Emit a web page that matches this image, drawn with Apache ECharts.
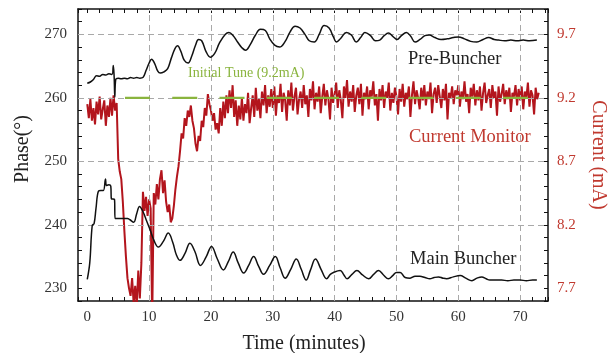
<!DOCTYPE html>
<html>
<head>
<meta charset="utf-8">
<script src="https://cdn.jsdelivr.net/npm/echarts@6/dist/echarts.min.js"></script>
<style>html,body{margin:0;padding:0;background:#fff}#c{width:608px;height:353px}</style>
</head>
<body>
<div id="c"></div>
<script>
// ---- data ----
const xTickLabels = [0, 10, 20, 30, 40, 50, 60, 70];
const phaseTickLabels = [230, 240, 250, 260, 270];
const currentTickLabels = [7.7, 8.2, 8.7, 9.2, 9.7];
const gridTimes = [10, 20, 30, 40, 50, 60, 70];
const gridPhases = [240, 250, 260, 270];

// Pre-Buncher phase [time (min), phase (deg)]
const preBuncher = [[0,262.3],[0.5,262.5],[1,262.9],[1.5,263.5],[2,263.4],[2.5,263.7],[3,263.6],[3.5,263.8],[4,263.7],[4.2,265.1],[4.35,263.2],[4.45,260.1],[4.6,262.9],[5,263.1],[5.5,263.0],[6,263.1],[6.5,263.0],[7,263.2],[7.5,263.1],[8,263.2],[8.5,263.1],[9,263.2],[9.5,264.3],[10,265.5],[10.4,266.1],[10.9,265.4],[11.4,264.2],[11.8,263.9],[12.4,264.1],[13,264.6],[13.6,266.3],[14.2,267.8],[14.6,268.2],[15.1,267.4],[15.7,265.9],[16.3,265.5],[16.9,266.6],[17.5,268.3],[18,269.2],[18.5,269.0],[19.2,267.3],[19.9,266.4],[20.6,267.0],[21.4,268.7],[22.3,270.0],[22.9,270.3],[23.6,269.8],[24.3,268.8],[25,267.9],[25.6,267.5],[26.3,268.3],[27.2,269.9],[28,270.8],[28.8,270.6],[29.5,269.3],[30.3,268.3],[31.1,268.0],[32,268.9],[32.8,270.4],[33.6,271.3],[34.4,271.0],[35.2,270.0],[35.9,269.0],[36.7,268.8],[37.5,270.0],[38.3,271.4],[39.1,271.0],[39.8,269.6],[40.3,268.8],[41,269.4],[41.9,270.3],[42.7,269.9],[43.5,268.8],[44.2,269.5],[44.9,270.3],[45.8,269.8],[46.6,269.0],[47.3,269.1],[48,269.8],[48.7,270.2],[49.4,269.7],[50.1,269.2],[50.8,269.8],[51.6,270.3],[52.3,269.7],[53,268.8],[53.8,269.2],[54.6,269.8],[55.3,269.9],[56.2,269.5],[57.2,269.2],[58.2,269.3],[59.2,269.5],[60,269.6],[61,269.3],[62,268.9],[63,268.8],[64,269.2],[64.9,269.5],[65.8,269.2],[66.5,269.1],[67.5,269.0],[68.5,269.1],[69.5,269.0],[70.5,269.1],[71.5,269.0],[72.7,269.1]];

// Main Buncher phase [time (min), phase (deg)]
const mainBuncher = [[0,231.4],[0.4,234],[0.8,239.9],[1.1,240.2],[1.4,242.5],[1.8,245.3],[2.2,245.4],[2.6,245.4],[2.95,247.2],[3.1,246.2],[3.5,246.3],[3.8,246.1],[3.9,244.1],[4.4,244],[4.5,241],[5.5,241],[6.5,241],[6.9,240.8],[7.5,240.4],[8,241.8],[8.45,242.9],[9,242.1],[9.6,240.6],[10.2,239.1],[10.8,237.5],[11.5,236.5],[12.3,237.4],[13.1,238.7],[13.8,237.3],[14.4,235.3],[15,234.4],[15.8,235.5],[16.6,237.1],[17.4,235.8],[18.3,233.6],[19.2,234.9],[20.1,236.6],[21,234.7],[22,232.9],[22.8,234.2],[23.6,235.7],[24.4,234.0],[25.3,232.4],[26.1,233.6],[26.9,235.0],[27.7,233.5],[28.5,232.2],[29.5,233.6],[30.4,235.0],[31.2,233.2],[32,231.6],[32.9,233.0],[33.8,234.6],[34.6,233.0],[35.4,231.3],[36.1,232.9],[36.9,234.6],[37.8,233.0],[38.7,231.5],[39.3,232.2],[39.8,232.5],[40.9,232.8],[41.5,232.1],[42,231.5],[42.8,232.2],[43.6,232.8],[44.5,232.1],[45.5,231.5],[46.3,232.2],[47.1,232.8],[47.9,232.1],[48.7,231.5],[49.4,232.0],[50,232.5],[50.6,232.5],[51.4,231.7],[52.2,231.6],[53,231.9],[53.8,231.9],[54.6,231.7],[55.4,231.5],[56.1,231.7],[56.8,231.8],[57.5,231.6],[58.1,231.5],[59.2,231.8],[60.3,232.0],[61.2,231.6],[62.2,231.2],[63,231.6],[63.8,231.8],[64.5,231.5],[65.1,231.3],[66,231.3],[67,231.3],[68,231.2],[69,231.3],[70,231.3],[71,231.2],[72,231.3],[72.7,231.3]];

// Current monitor (mA), sampled every 0.25 min from t = 0
const currentStartMin = 0;
const currentStepMin = 0.25;
const currentMA = [
9.15,9.04,9.19,9.02,9.12,8.99,9.17,9.07,9.21,9.03,9.11,9.18,8.98,9.14,9.05,9.20,9.06,9.22,9.10,9.16,
8.72,8.62,8.56,8.38,8.15,7.95,7.78,7.70,7.64,7.78,7.58,7.72,7.56,7.84,7.62,7.90,8.46,8.31,8.42,8.27,
8.40,8.33,7.45,8.45,8.36,8.52,8.40,8.56,8.63,8.45,8.55,8.38,8.30,8.36,8.22,8.25,8.35,8.48,8.58,8.66,
8.78,8.92,8.88,9.04,8.98,9.10,9.05,9.14,9.02,8.96,8.84,8.78,8.90,8.86,9.02,8.97,9.12,9.06,9.23,9.15,
9.10,9.02,9.08,8.95,9.00,8.92,9.12,8.98,9.17,9.04,9.22,9.08,9.26,9.12,9.30,9.05,9.18,8.98,9.14,9.03,
9.20,9.02,9.15,9.08,9.24,9.00,9.12,9.22,9.05,9.28,9.10,9.19,9.04,9.25,9.14,9.30,9.08,9.22,9.13,9.27,
9.12,9.29,9.06,9.22,9.16,9.31,9.09,9.24,9.18,9.02,9.26,9.14,9.32,9.10,9.21,9.28,9.07,9.19,9.25,9.12,
9.30,9.15,9.22,9.05,9.27,9.18,9.33,9.11,9.24,9.17,9.29,9.08,9.21,9.31,9.14,9.26,9.19,9.03,9.28,9.16,
9.23,9.32,9.12,9.26,9.18,9.04,9.29,9.20,9.34,9.13,9.25,9.17,9.30,9.09,9.22,9.28,9.15,9.31,9.06,9.24,
9.19,9.29,9.11,9.26,9.21,9.33,9.14,9.23,9.02,9.27,9.18,9.30,9.12,9.25,9.20,9.32,9.10,9.24,9.16,9.28,
9.21,9.07,9.27,9.17,9.31,9.13,9.24,9.19,9.29,9.05,9.22,9.33,9.15,9.26,9.20,9.11,9.28,9.18,9.30,9.14,
9.25,9.19,9.32,9.08,9.23,9.28,9.16,9.30,9.21,9.12,9.27,9.18,9.31,9.03,9.24,9.20,9.29,9.15,9.26,9.22,
9.30,9.13,9.25,9.19,9.33,9.17,9.23,9.08,9.28,9.21,9.31,9.14,9.26,9.18,9.29,9.10,9.24,9.32,9.16,9.22,
9.27,9.12,9.30,9.20,9.25,9.06,9.29,9.17,9.23,9.31,9.15,9.26,9.19,9.28,9.09,9.24,9.21,9.30,9.14,9.27,
9.18,9.29,9.11,9.25,9.20,9.32,9.13,9.26,9.22,9.07,9.28,9.19,9.24
];

// Initial tune reference (9.2 mA) drawn from t = 6.1 min to the end
const initialTuneTimes = [6.1, 73];
const initialTuneMA = 9.2;

// ---- chart ----
const SERIF = "'Liberation Serif', 'Times New Roman', serif";
const RED = '#b3151d';
const RED_TXT = '#c0392f';
const GREEN = '#8ab43e';
const GRID = '#a9a9a9';
const AX = '#111';

const currentData = currentMA.map((v, i) => [currentStartMin + i * currentStepMin, v]);
const near = (a, b) => Math.abs(a - b) < 1e-6;

const chart = echarts.init(document.getElementById('c'), null, {renderer: 'canvas'});
const xRange = {min: -1.5, max: 74.5};
chart.setOption({
  animation: false,
  backgroundColor: '#fff',
  grid: {left: 78, right: 60, top: 9, bottom: 52, containLabel: false, outerBoundsMode: 'none'},
  xAxis: [
    { type: 'value', ...xRange, minInterval: 10, maxInterval: 10, position: 'bottom',
      axisLine: {show: true, onZero: false, lineStyle: {color: AX, width: 1.5}},
      axisTick: {show: false}, splitLine: {show: false},
      axisLabel: {margin: 9, color: '#333', fontSize: 15, fontFamily: SERIF,
        formatter: v => xTickLabels.some(t => near(t, v)) ? String(Math.round(v)) : ''},
      name: 'Time (minutes)', nameLocation: 'middle', nameGap: 33,
      nameTextStyle: {color: '#222', fontSize: 20, fontFamily: SERIF, padding: [0, 18, 0, 0]}
    },
    { type: 'value', ...xRange, minInterval: 2, maxInterval: 2, position: 'bottom',
      axisLine: {show: false, onZero: false}, axisLabel: {show: false}, splitLine: {show: false},
      axisTick: {show: true, inside: true, length: 4, lineStyle: {color: AX, width: 1}}
    },
    { type: 'value', ...xRange, minInterval: 2, maxInterval: 2, position: 'top',
      axisLine: {show: true, onZero: false, lineStyle: {color: AX, width: 1.5}},
      axisLabel: {show: false}, splitLine: {show: false},
      axisTick: {show: true, inside: true, length: 4, lineStyle: {color: AX, width: 1}}
    }
  ],
  yAxis: [
    { type: 'value', min: 228, max: 274, minInterval: 10, maxInterval: 10, position: 'left',
      axisLine: {show: true, onZero: false, lineStyle: {color: AX, width: 1.5}},
      axisTick: {show: false}, splitLine: {show: false},
      axisLabel: {margin: 11, color: '#333', fontSize: 15, fontFamily: SERIF,
        formatter: v => phaseTickLabels.some(t => near(t, v)) ? String(Math.round(v)) : ''},
      name: 'Phase(°)', nameLocation: 'middle', nameRotate: 90, nameGap: 45,
      nameTextStyle: {color: '#222', fontSize: 20, fontFamily: SERIF, padding: [0, 0, 0, 12]}
    },
    { type: 'value', min: 228, max: 274, minInterval: 2, maxInterval: 2, position: 'left',
      axisLine: {show: false, onZero: false}, axisLabel: {show: false}, splitLine: {show: false},
      axisTick: {show: true, inside: true, length: 4, lineStyle: {color: AX, width: 1}}
    },
    { type: 'value', min: 7.6, max: 9.9, minInterval: 0.1, maxInterval: 0.1, position: 'right',
      axisLine: {show: true, onZero: false, lineStyle: {color: AX, width: 1.5}},
      splitLine: {show: false},
      axisTick: {show: true, inside: true, length: 4, lineStyle: {color: AX, width: 1}},
      axisLabel: {margin: 9, color: RED_TXT, fontSize: 15, fontFamily: SERIF,
        formatter: v => currentTickLabels.some(t => near(t, v)) ? v.toFixed(1) : ''},
      name: 'Current (mA)', nameLocation: 'middle', nameRotate: -90, nameGap: 40,
      nameTextStyle: {color: RED_TXT, fontSize: 20, fontFamily: SERIF}
    }
  ],
  series: [
    { name: 'grid', type: 'line', xAxisIndex: 0, yAxisIndex: 0, data: [], z: 1, silent: true,
      markLine: { silent: true, symbol: ['none', 'none'], animation: false,
        label: {show: false},
        lineStyle: {color: GRID, type: [6, 4], width: 1},
        emphasis: {disabled: true},
        data: [...gridPhases.map(p => ({yAxis: p})), ...gridTimes.map(t => ({xAxis: t}))]
      }
    },
    { name: 'Current Monitor', type: 'line', xAxisIndex: 0, yAxisIndex: 2, data: currentData,
      showSymbol: false, symbol: 'none', z: 3, lineStyle: {color: RED, width: 2}, clip: true },
    { name: 'Initial Tune', type: 'line', xAxisIndex: 0, yAxisIndex: 2,
      data: initialTuneTimes.map(t => [t, initialTuneMA]), symbol: 'none', z: 6,
      lineStyle: {color: GREEN, width: 2.2, type: [25, 22.25]} },
    { name: 'Pre-Buncher', type: 'line', xAxisIndex: 0, yAxisIndex: 0, data: preBuncher,
      symbol: 'none', smooth: 0.4, z: 5, lineStyle: {color: AX, width: 1.5} },
    { name: 'Main Buncher', type: 'line', xAxisIndex: 0, yAxisIndex: 0, data: mainBuncher,
      symbol: 'none', smooth: 0.4, z: 5, lineStyle: {color: AX, width: 1.5} }
  ],
  graphic: [
    {type: 'text', x: 408, y: 59, z: 10, style: {text: 'Pre-Buncher', fill: '#222', font: "18.5px " + SERIF, verticalAlign: 'middle'}},
    {type: 'text', x: 409, y: 137, z: 10, style: {text: 'Current Monitor', fill: RED_TXT, font: "18.5px " + SERIF, verticalAlign: 'middle'}},
    {type: 'text', x: 410, y: 259, z: 10, style: {text: 'Main Buncher', fill: '#222', font: "18.5px " + SERIF, verticalAlign: 'middle'}},
    {type: 'text', x: 188, y: 73, z: 10, style: {text: 'Initial Tune (9.2mA)', fill: GREEN, font: "14px " + SERIF, verticalAlign: 'middle'}}
  ]
});
</script>
</body>
</html>
